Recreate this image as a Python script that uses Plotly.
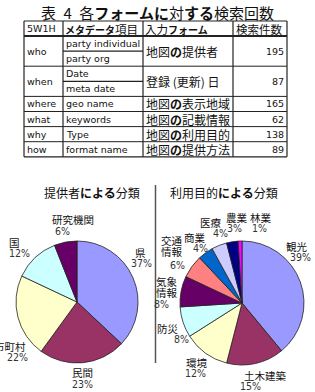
import plotly.graph_objects as go

W, H = 315, 392

# ---------------- data ----------------
title = "表\u20024\u2002各<b>フォームに</b>対<b>する</b>検索回数"
col_headers = ["5W1H",
               "<span style=\"font-size:10px\"><b>メタデータ</b></span>項目",
               "入力<span style=\"font-size:10px\"><b>フォーム</b></span>",
               "検索件数"]
w5h1 = ["who", "when", "where", "what", "why", "how"]
meta_items = [["party individual", "party org"], ["Date", "meta date"],
              ["geo name"], ["keywords"], ["Type"], ["format name"]]
input_forms = ["地図<b>の</b>提供者", "登録\u00a0(更新)\u00a0日", "地図<b>の</b>表示地域",
               "地図<b>の</b>記載情報", "地図<b>の</b>利用目的", "地図<b>の</b>提供方法"]
search_counts = [195, 87, 165, 62, 138, 89]

provider_title = "提供者<b>による</b>分類"
provider_labels = ["県", "民間", "市町村", "国", "研究機関"]
provider_values = [37, 23, 22, 12, 6]

purpose_title = "利用目的<b>による</b>分類"
purpose_labels = ["観光", "土木建築", "環境", "防災", "気象<br>情報", "交通<br>情報",
                  "商業", "医療", "農業", "林業"]
purpose_values = [39, 15, 12, 8, 8, 6, 4, 4, 3, 1]

# ---------------- styles / positions ----------------
excel_colors = ["#9999FF", "#993366", "#FFFFCC", "#CCFFFF", "#660066",
                "#FF8080", "#0066CC", "#CCCCFF", "#000080", "#FF00FF"]
JP = "Noto Sans CJK JP"
LAT = "DejaVu Sans, Noto Sans CJK JP"
NARROW = "Liberation Sans Narrow, DejaVu Sans Condensed, Noto Sans CJK JP"


def px(x):
    return x / W


def py(y):
    return 1 - y / H


shapes = []
annotations = []


def hline(x0, x1, y, w=1.0, color="#222"):
    shapes.append(dict(type="line", xref="paper", yref="paper",
                       x0=px(x0), x1=px(x1), y0=py(y), y1=py(y),
                       line=dict(color=color, width=w)))


def vline(x, y0, y1, w=1.0, color="#222"):
    shapes.append(dict(type="line", xref="paper", yref="paper",
                       x0=px(x), x1=px(x), y0=py(y0), y1=py(y1),
                       line=dict(color=color, width=w)))


def text(x, y, s, size, family=JP, xanchor="center", color="#111"):
    annotations.append(dict(x=px(x), y=py(y), xref="paper", yref="paper",
                            text=s, showarrow=False, xanchor=xanchor,
                            yanchor="middle", align=xanchor if xanchor != "center" else "center",
                            borderpad=0,
                            font=dict(size=size, family=family, color=color)))


# title
text(157, 12, title, 15)

# table geometry
col_x = [24, 63, 143, 233, 287]
top, head_b, sub_h = 21, 36, 15.1
text(26, (top + head_b) / 2, col_headers[0], 9.5, LAT, "left")
text(64, (top + head_b) / 2, col_headers[1], 11.5, JP, "left")
text(144, (top + head_b) / 2, col_headers[2], 11.5, JP, "left")
text(235, (top + head_b) / 2, col_headers[3], 11.5, JP, "left")

y = head_b
for i, key in enumerate(w5h1):
    n = len(meta_items[i])
    y0, y1 = y, y + n * sub_h
    mid = (y0 + y1) / 2
    text(26, mid, key, 9.5, LAT, "left")
    for j, item in enumerate(meta_items[i]):
        ys = y0 + j * sub_h
        text(65, ys + sub_h / 2, item, 9.5, LAT, "left")
        if j > 0:
            hline(col_x[1], col_x[2], ys, 1.3)
    text(145, mid, input_forms[i], 12, JP, "left")
    text(285, mid, str(search_counts[i]), 9.5, LAT, "right")
    if i > 0:
        hline(col_x[0], col_x[4], y0, 1.0)
    y = y1
bottom = y

hline(col_x[0], col_x[4], top, 1.2)
hline(col_x[0], col_x[4], head_b, 2.0)
hline(col_x[0], col_x[4], bottom, 1.2)
for cx in col_x:
    vline(cx, top, bottom, 1.2)

# pie titles and divider
text(92, 192, provider_title, 12)
text(224, 192, purpose_title, 12)
vline(155.5, 185, 363, 1.5, "#555")

# label positions (pixels): name x, first-line y, pct x, pct y
provider_pos = [(140, 252, 141, 263), (82, 372, 82, 384), (10, 346, 17, 357),
                (14, 242, 19, 253), (73, 220, 62, 231)]
purpose_pos = [(297, 246, 300, 257), (265, 375, 251, 386), (197, 362, 195, 373),
               (168, 328, 181, 339), (167, 281, 162, 304), (172, 240, 177, 265),
               (195, 237, 200, 248), (211, 222, 220, 233), (237, 217, 234, 228),
               (261, 217, 259, 228)]
LINE_GAP = 11.5

for labels, values, pos in [(provider_labels, provider_values, provider_pos),
                            (purpose_labels, purpose_values, purpose_pos)]:
    for lab, v, (nx, ny, tx, ty) in zip(labels, values, pos):
        for k, part in enumerate(lab.split("<br>")):
            text(nx, ny + k * LINE_GAP, part, 10.5, JP)
        text(tx, ty, f"{v}%", 10.5, NARROW, color="#333")

fig = go.Figure()
fig.add_trace(go.Pie(labels=provider_labels, values=provider_values, sort=False,
                     direction="clockwise", rotation=0, textinfo="none",
                     marker=dict(colors=excel_colors[:5], line=dict(color="#222", width=0.8)),
                     domain=dict(x=[px(16), px(138)], y=[py(363), py(241)]),
                     showlegend=False))
fig.add_trace(go.Pie(labels=purpose_labels, values=purpose_values, sort=False,
                     direction="clockwise", rotation=0, textinfo="none",
                     marker=dict(colors=excel_colors, line=dict(color="#222", width=0.8)),
                     domain=dict(x=[px(180), px(304)], y=[py(365), py(241)]),
                     showlegend=False))

fig.update_layout(width=W, height=H, margin=dict(l=0, r=0, t=0, b=0),
                  paper_bgcolor="white", plot_bgcolor="white",
                  shapes=shapes, annotations=annotations)
fig.write_html("out.html")
